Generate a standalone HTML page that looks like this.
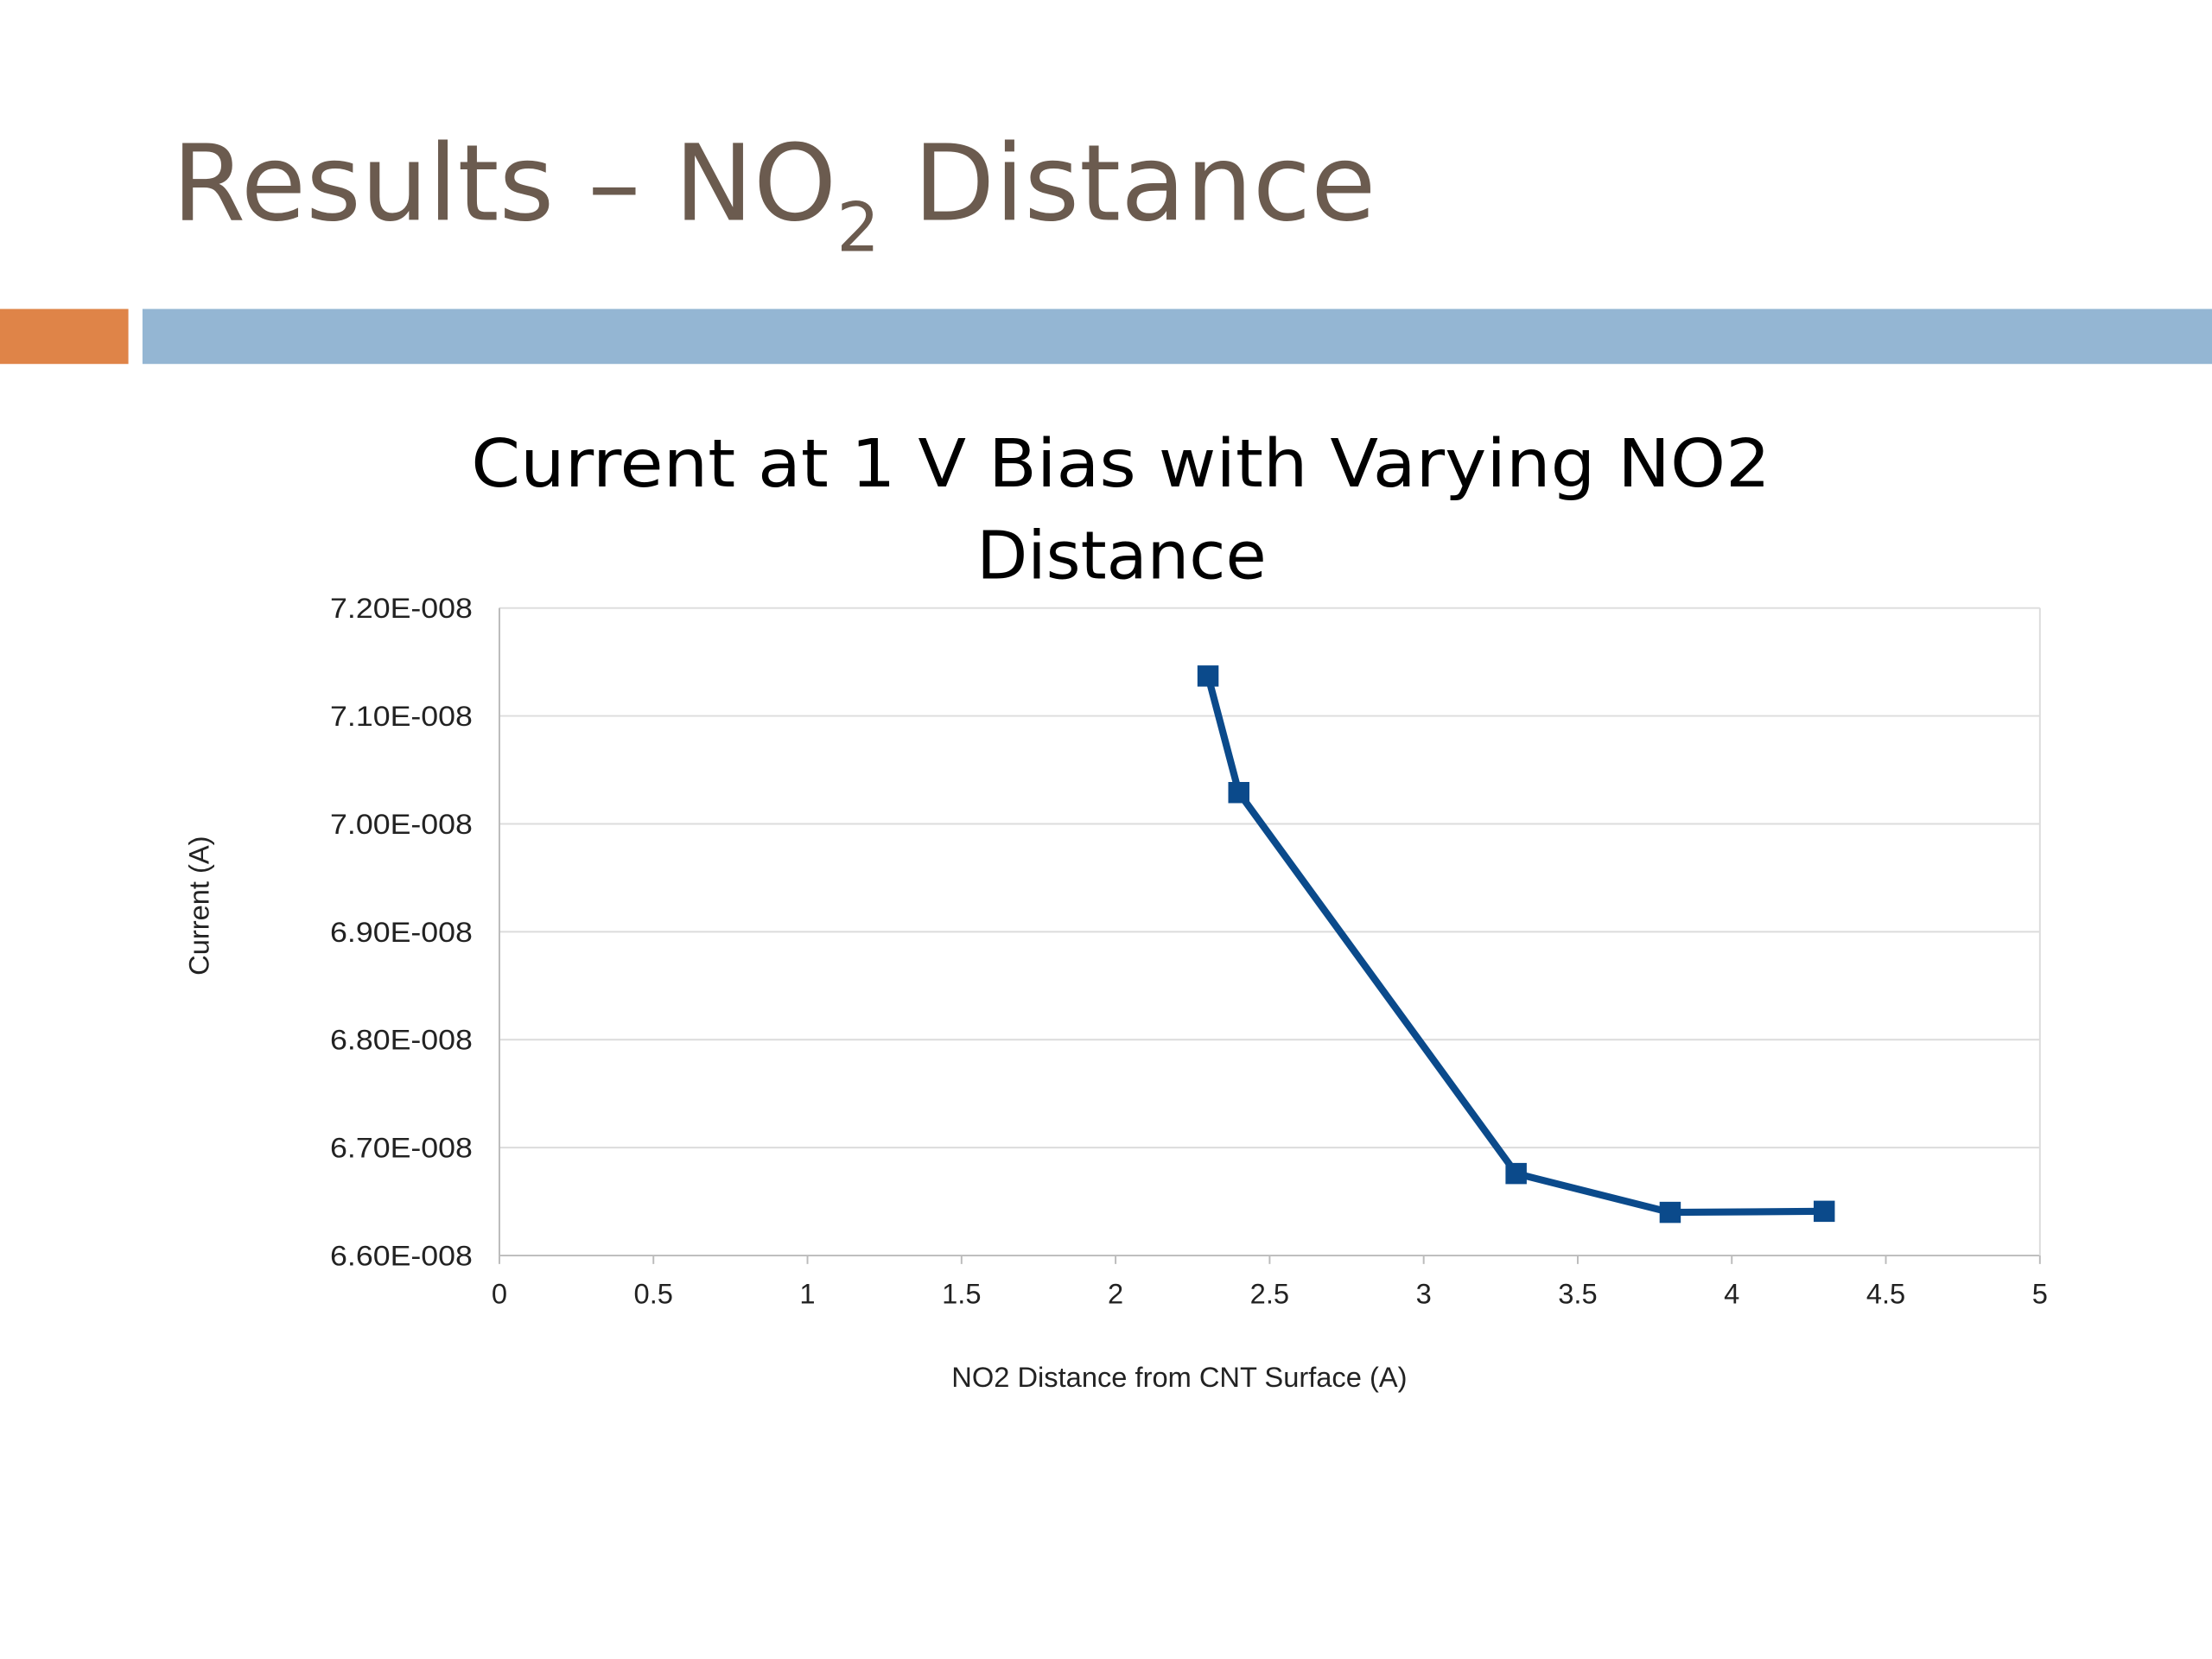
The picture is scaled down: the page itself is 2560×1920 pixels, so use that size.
<!DOCTYPE html>
<html>
<head>
<meta charset="utf-8">
<style>
html,body{margin:0;padding:0;background:#fff;}
svg{display:block;}
text{font-family:"DejaVu Sans","Liberation Sans",sans-serif;}
.ax{font-family:"Liberation Sans",sans-serif;font-size:20px;fill:#222;}
</style>
</head>
<body>
<svg id="chart" width="2560" height="1920" viewBox="0 0 1568 1176" preserveAspectRatio="none" xmlns="http://www.w3.org/2000/svg">
  <rect width="1568" height="1176" fill="#fff"/>
  <text x="122" y="156" font-size="75" fill="#6b5b4f">Results – NO<tspan font-size="48" dy="22">2</tspan><tspan dy="-22"> Distance</tspan></text>
  <rect x="0" y="219" width="91" height="39" fill="#df8448"/>
  <rect x="101" y="219" width="1467" height="39" fill="#94b6d3"/>
  <text x="334" y="345" font-size="47" textLength="921" lengthAdjust="spacingAndGlyphs" fill="#000">Current at 1 V Bias with Varying NO2</text>
  <text x="795" y="410" font-size="47" text-anchor="middle" fill="#000">Distance</text>
  <g id="grid"></g>
  <g id="axes"></g>
  <g id="series"></g>
  <text class="ax" x="836" y="983" text-anchor="middle">NO2 Distance from CNT Surface (A)</text>
  <text class="ax" transform="translate(148,642) rotate(-90)" text-anchor="middle">Current (A)</text>
</svg>
<script>
const xValues = [2.3, 2.4, 3.3, 3.8, 4.3];
const yValues = [7.137e-8, 7.029e-8, 6.676e-8, 6.640e-8, 6.641e-8];
const xTicks = [0, 0.5, 1, 1.5, 2, 2.5, 3, 3.5, 4, 4.5, 5];
const xTickLabels = ["0","0.5","1","1.5","2","2.5","3","3.5","4","4.5","5"];
const yTicks = [6.6e-8, 6.7e-8, 6.8e-8, 6.9e-8, 7.0e-8, 7.1e-8, 7.2e-8];
const yTickLabels = ["6.60E-008","6.70E-008","6.80E-008","6.90E-008","7.00E-008","7.10E-008","7.20E-008"];

const NS = "http://www.w3.org/2000/svg";
const L = 354, R = 1446, T = 431, B = 890;
const xMin = 0, xMax = 5, yMin = 6.6e-8, yMax = 7.2e-8;
function xs(v){ return L + (v - xMin) / (xMax - xMin) * (R - L); }
function ys(v){ return B - (v - yMin) / (yMax - yMin) * (B - T); }
function mk(tag, attrs, parent){
  const e = document.createElementNS(NS, tag);
  for (const k in attrs) e.setAttribute(k, attrs[k]);
  parent.appendChild(e);
  return e;
}
const grid = document.getElementById('grid');
const axes = document.getElementById('axes');
const series = document.getElementById('series');

yTicks.forEach((v, i) => {
  const g = mk('line', {x1: L, x2: R, y1: ys(v), y2: ys(v), stroke: i === 0 ? '#bbb' : '#dcdcdc', 'stroke-width': 1.2}, grid);
  
  
  const t = mk('text', {x: 234, y: ys(v) + 7, textLength: 101, lengthAdjust: 'spacingAndGlyphs', class: 'ax'}, axes);
  t.textContent = yTickLabels[i];
  
  
});
const rb = mk('line', {x1: R, x2: R, y1: T, y2: B, stroke: '#dcdcdc', 'stroke-width': 1.2}, grid);


const ya = mk('line', {x1: L, x2: L, y1: T, y2: B, stroke: '#bbb', 'stroke-width': 1.2}, axes);


xTicks.forEach((v, i) => {
  const tk = mk('line', {x1: xs(v), x2: xs(v), y1: B, y2: B + 6, stroke: '#bbb', 'stroke-width': 1.2}, axes);
  
  
  const t = mk('text', {x: xs(v), y: 924, 'text-anchor': 'middle', class: 'ax'}, axes);
  t.textContent = xTickLabels[i];
  
  
});
const pts = xValues.map((x, i) => xs(x) + ',' + ys(yValues[i])).join(' ');
const line = mk('polyline', {points: pts, fill: 'none', stroke: '#0b4a8b', 'stroke-width': 5, 'stroke-linejoin': 'round'}, series);


xValues.forEach((x, i) => {
  const m = mk('rect', {x: xs(x) - 7.5, y: ys(yValues[i]) - 7.5, width: 15, height: 15, fill: '#0b4a8b'}, series);
  
  
});
</script>
</body>
</html>
